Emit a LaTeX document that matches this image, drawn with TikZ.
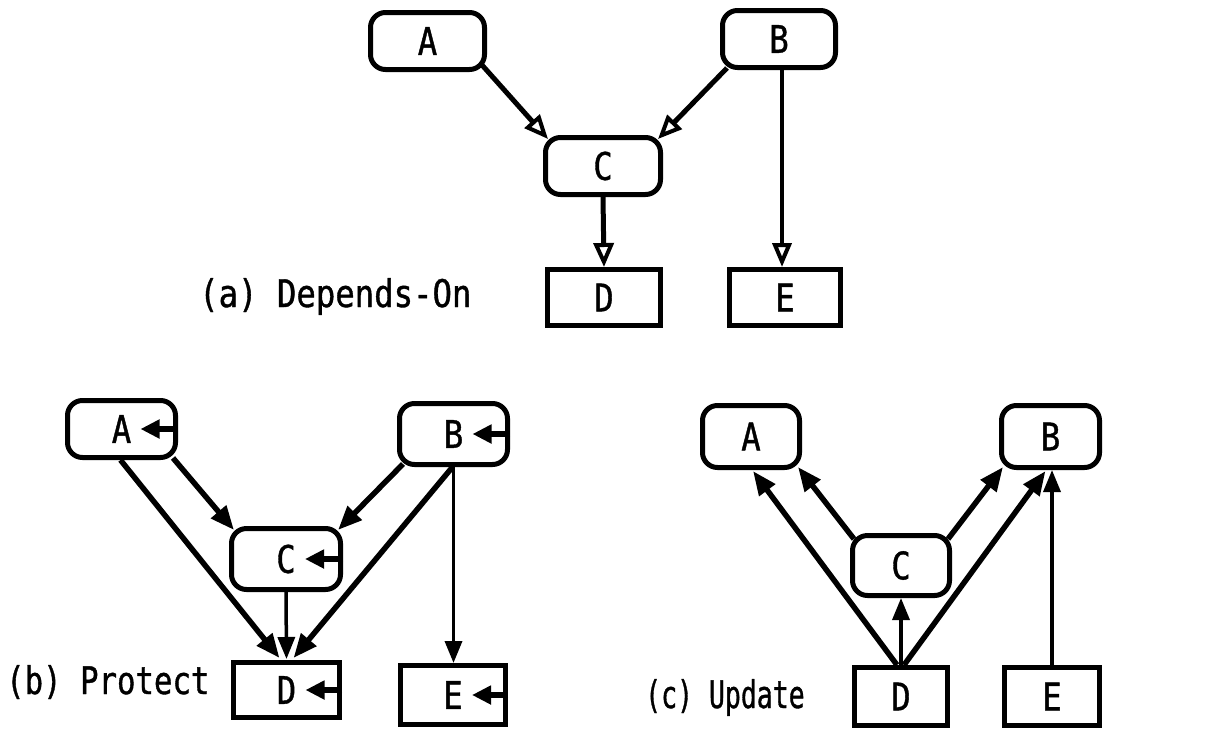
\documentclass[tikz,border=0pt]{standalone}
\usepackage{fontspec}
\setmainfont[FakeStretch=0.85,FakeBold=1]{DejaVu Sans Mono}
\usetikzlibrary{arrows.meta}
\begin{document}
\begin{tikzpicture}[x=1pt,y=-1pt,
  every node/.style={font=\fontsize{38}{38}\selectfont},
  rbox/.style 2 args={draw, line width=5pt, rounded corners=15pt,
    minimum width=#1, minimum height=#2, inner sep=0pt},
  sbox/.style 2 args={draw, line width=5pt,
    minimum width=#1, minimum height=#2, inner sep=0pt},
  link/.style={line width=5.5pt, -{Triangle[length=24pt,width=19pt]}},
  slimlink/.style={line width=3.5pt, -{Triangle[length=22pt,width=17pt]}},
  openlink/.style={line width=5pt, -{Triangle[open,length=24pt,width=20pt,line width=4pt]}},
  openslim/.style={line width=3.5pt, -{Triangle[open,length=24pt,width=19pt,line width=4pt]}},
  selfarrow/.style={line width=5.5pt, -{Triangle[length=19pt,width=18pt]}},
  caption/.style={anchor=base west, inner sep=0pt}
]
\useasboundingbox (0,0) rectangle (1210,729);

% ---------- (a) Depends-On ----------
\node[rbox={114pt}{57pt}] (aA) at (427.5,41) {A};
\node[rbox={113pt}{57pt}] (aB) at (779,39) {B};
\node[rbox={115pt}{57pt}] (aC) at (603,166) {C};
\node[sbox={113pt}{56pt}] (aD) at (604,297.5) {D};
\node[sbox={111pt}{56pt}] (aE) at (785,297.5) {E};
\node[caption] (acap) at (199,307) {(a) Depends-On};

\draw[openlink] ([shift={(-5,-7)}]aA.south east) -- ([shift={(5,4)}]aC.north west);
\draw[openlink] ([shift={(7,-2)}]aB.south west) -- ([shift={(-5,4)}]aC.north east);
\draw[openslim] ([xshift=3pt]aB.south) -- ([xshift=-3pt]aE.north);
\draw[openlink] (aC.south) -- (aD.north);

% ---------- (b) Protect ----------
\node[rbox={108pt}{57pt}] (bA) at (121.5,429) {A};
\node[rbox={108pt}{61pt}] (bB) at (453.5,434) {B};
\node[rbox={109pt}{61pt}] (bC) at (286,559) {C};
\node[sbox={106pt}{55pt}] (bD) at (286.5,690) {D};
\node[sbox={105pt}{59pt}] (bE) at (453,695) {E};
\node[caption] (bcap) at (6,694) {\scalebox{0.95}[1]{(b) Protect}};

\foreach \n in {bA,bB,bC,bD,bE}
  \draw[selfarrow] (\n.east) -- ([xshift=19pt]\n.center);

\draw[link] ([shift={(-5,-2)}]bA.south east) -- ([shift={(5,4)}]bC.north west);
\draw[link] ([shift={(-1,0)}]bA.south) -- ([shift={(-7,-2)}]bD.north);
\draw[link] ([shift={(6,-3)}]bB.south west) -- ([shift={(-5,4)}]bC.north east);
\draw[link] ([shift={(-1,0)}]bB.south) -- ([shift={(7,-2)}]bD.north);
\draw[slimlink] (bB.south) -- (bB.south |- bE.north);
\draw[slimlink] (bC.south) -- ([shift={(0,-1)}]bD.north);

% ---------- (c) Update ----------
\node[rbox={97pt}{62pt}] (cA) at (751,436.5) {A};
\node[rbox={98pt}{62pt}] (cB) at (1050.5,436.5) {B};
\node[rbox={97pt}{60pt}] (cC) at (901,565.5) {C};
\node[sbox={93pt}{58pt}] (cD) at (901,696.5) {D};
\node[sbox={95pt}{58pt}] (cE) at (1052,696.5) {E};
\node[caption] (ccap) at (645,708) {\scalebox{0.82}[1]{(c) Update}};

\draw[link] ([shift={(-4,0)}]cD.north) -- ([shift={(2,1)}]cA.south);
\draw[link] ([shift={(4,6)}]cC.north west) -- ([shift={(-4,-3)}]cA.south east);
\draw[slimlink] (cD.north) -- (cC.south);
\draw[link] ([shift={(-4,6)}]cC.north east) -- ([shift={(4,-3)}]cB.south west);
\draw[link] ([shift={(3,0)}]cD.north) -- ([shift={(-5,1)}]cB.south);
\draw[slimlink] (cE.north) -- (cE.north |- cB.south);
\end{tikzpicture}
\end{document}
